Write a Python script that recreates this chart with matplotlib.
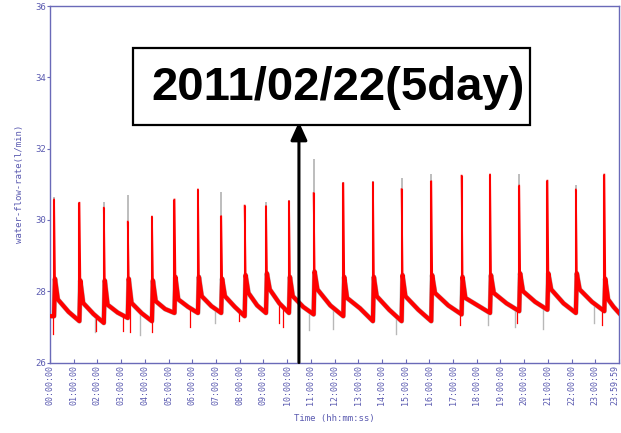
import numpy as np
import matplotlib
matplotlib.use('Agg')
import matplotlib.pyplot as plt
from matplotlib.patches import Rectangle

# ---- data ----
spike_t = [0.17, 1.24, 2.27, 3.28, 4.30, 5.25, 6.24, 7.22, 8.21, 9.11, 10.08,
           11.12, 12.37, 13.62, 14.83, 16.08, 17.36, 18.56, 19.79, 20.98, 22.18, 23.38]
peak_red = [30.57, 30.48, 30.34, 29.95, 30.09, 30.57, 30.85, 30.10, 30.40, 30.38, 30.52,
            30.75, 31.03, 31.05, 30.86, 31.08, 31.24, 31.27, 30.96, 31.10, 30.85, 31.27]
peak_gray = [30.65, 30.50, 30.49, 30.70, 30.10, 30.60, 30.87, 30.77, 30.42, 30.49, 30.55,
             31.70, 31.05, 31.08, 31.17, 31.28, 31.26, 31.30, 31.29, 31.12, 30.99, 31.28]
pre_level = [27.30, 27.16, 27.11, 27.25, 27.16, 27.39, 27.39, 27.39, 27.30, 27.39, 27.39,
             27.35, 27.30, 27.16, 27.16, 27.16, 27.35, 27.39, 27.44, 27.48, 27.39, 27.44]
shoulder_level = [28.35, 28.30, 28.30, 28.35, 28.30, 28.40, 28.40, 28.35, 28.45, 28.50, 28.40,
                  28.55, 28.40, 28.40, 28.45, 28.45, 28.40, 28.45, 28.50, 28.50, 28.50, 28.35]
post_level = [27.77, 27.67, 27.62, 27.67, 27.72, 27.77, 27.86, 27.86, 27.95, 28.05, 27.86,
              28.05, 27.81, 27.86, 27.86, 27.95, 27.81, 27.95, 28.00, 28.05, 28.05, 27.77]
mid_level = [27.42, 27.36, 27.40, 27.38, 27.50, 27.56, 27.58, 27.56, 27.60, 27.66, 27.56,
             27.60, 27.52, 27.48, 27.48, 27.60, 27.60, 27.66, 27.70, 27.66, 27.70, 27.56]
start_level = 27.30
end_level = 27.39

red_dip_t = [0.14, 1.95, 3.10, 3.38, 4.30, 5.92, 7.99, 9.67, 9.84, 17.30, 19.69, 23.30]
red_dip_v = [26.80, 26.88, 26.88, 26.86, 26.86, 27.00, 27.16, 27.11, 27.00, 27.05, 27.10, 27.05]
gray_dip_t = [1.90, 3.80, 6.94, 10.93, 11.94, 14.58, 18.49, 19.60, 20.80, 22.94]
gray_dip_v = [26.86, 26.77, 27.12, 26.90, 26.95, 26.81, 27.05, 27.00, 26.95, 27.11]

hour_ticks = list(range(24)) + [23 + 59 / 60 + 59 / 3600]
hour_labels = ['%02d:00:00' % h for h in range(24)] + ['23:59:59']
y_ticks = [26, 28, 30, 32, 34, 36]

title_text = '2011/02/22(5day)'
arrow_time = 10.50
arrow_top = 32.75

# ---- build the band polyline (without spike tips) from the read key values ----
band_t = [0.0]
band_v = [start_level]
for i, ts in enumerate(spike_t):
    t_next = spike_t[i + 1] if i + 1 < len(spike_t) else 24.0
    band_t += [ts, ts + 0.04, ts + 0.16]
    band_v += [pre_level[i], shoulder_level[i], post_level[i]]
    band_t.append((ts + 0.16 + t_next) / 2)
    band_v.append(mid_level[i])
band_t.append(24.0)
band_v.append(end_level)

# ---- figure ----
W, H = 621, 433
fig = plt.figure(figsize=(W / 100, H / 100), dpi=100)
ax = fig.add_axes([50 / W, 1 - 362.5 / H, 569 / W, 356.5 / H])

axis_col = '#6a6ab8'
text_col = '#5a5ab0'
mono = 'DejaVu Sans Mono'
red = '#ff0000'
gray = '#b8b8b8'

# gray trace (visible where it exceeds the red one)
ax.vlines(spike_t, pre_level, peak_gray, color=gray, lw=1.3, zorder=2)
for t, v in zip(gray_dip_t, gray_dip_v):
    top = np.interp(t, band_t, band_v)
    ax.plot([t, t], [v, top], color=gray, lw=1.0, zorder=2)
ax.plot(band_t, band_v, color=gray, lw=3.6, zorder=2)

# red trace
ax.plot(band_t, band_v, color=red, lw=3.0, zorder=3, solid_joinstyle='round')
ax.vlines(spike_t, pre_level, peak_red, color=red, lw=1.5, zorder=3)
for i, ts in enumerate(spike_t):
    ax.plot([ts, ts + 0.04], [peak_red[i], shoulder_level[i]], color=red, lw=1.3, zorder=3)
for t, v in zip(red_dip_t, red_dip_v):
    top = np.interp(t, band_t, band_v)
    ax.plot([t, t], [v, top], color=red, lw=0.9, zorder=3)

ax.set_xlim(0, hour_ticks[-1])
ax.set_ylim(26, 36)
ax.set_xticks(hour_ticks)
ax.set_xticklabels(hour_labels, rotation=90, family=mono, fontsize=6, color=text_col)
xl = ax.get_xticklabels()
xl[-1].set_horizontalalignment('right')
ax.set_yticks(y_ticks)
ax.set_yticklabels([str(y) for y in y_ticks], family=mono, fontsize=6.5, color=text_col)
ax.tick_params(axis='x', direction='in', length=3, width=0.8, color=axis_col, pad=2)
ax.tick_params(axis='y', direction='out', length=2, width=0.8, color=axis_col, pad=1)
for s in ax.spines.values():
    s.set_color(axis_col)
    s.set_linewidth(1.0)
ax.set_xlabel('Time (hh:mm:ss)', family=mono, fontsize=6.5, color=text_col, labelpad=6)
ax.set_ylabel('water-flow-rate(l/min)', family=mono, fontsize=6.5, color=text_col, labelpad=8)

# annotation box and arrow
fig.patches.append(Rectangle((133 / W, 1 - 124.5 / H), 397 / W, 77 / H,
                             transform=fig.transFigure, fill=True, facecolor='white',
                             edgecolor='black', lw=1.6, zorder=10))
fig.text(338 / W, 1 - 88 / H, title_text, ha='center', va='center',
         fontsize=34, fontweight='bold', family='Liberation Sans', zorder=11)
ax.annotate('', xy=(arrow_time, arrow_top), xytext=(arrow_time, 26.0),
            xycoords='data', textcoords='data',
            arrowprops=dict(arrowstyle='-|>,head_length=1.1,head_width=0.5',
                            color='black', lw=2.2, shrinkA=0, shrinkB=0),
            annotation_clip=False, zorder=12)

fig.savefig('out.png', dpi=100)
